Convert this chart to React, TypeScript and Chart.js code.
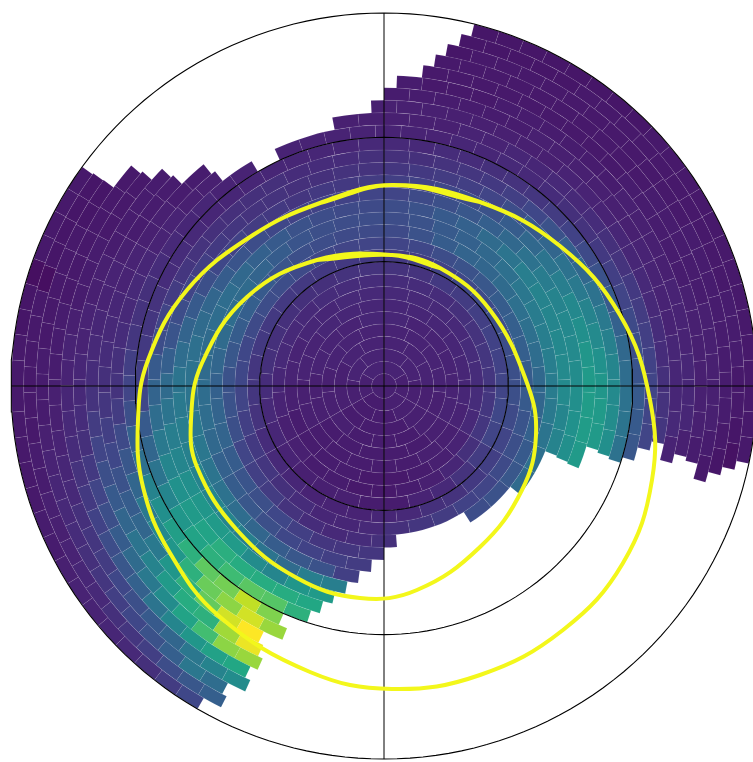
import React, { useEffect, useRef } from "react";
import { Chart, registerables } from "chart.js";

Chart.register(...registerables);

const _ = null;
// Each ring runs clockwise from north; values are percent of the colour range, null is an empty cell.
const ring0 = [5];
const ring1 = [6, 5, 5, 4, 5, 6];
const ring2 = [6, 6, 5, 5, 4, 4, 5, 6, 6];
const ring3 = [6, 6, 6, 5, 5, 4, 4, 4, 5, 5, 6, 6];
const ring4 = [6, 6, 6, 6, 5, 5, 4, 4, 4, 5, 5, 5, 6, 6, 6];
const ring5 = [7, 6, 6, 6, 6, 6, 5, 4, 4, 4, 4, 4, 5, 5, 6, 6, 6, 7];
const ring6 = [7, 7, 7, 7, 7, 7, 6, 5, 5, 4, 4, 4, 4, 4, 5, 5, 6, 6, 7, 7, 7];
const ring7 = [8, 8, 8, 8, 9, 9, 9, 8, 6, 5, 4, 3, 3, 4, 4, 4, 4, 5, 6, 6, 7, 7, 8, 8];
const ring8 = [9, 9, 9, 10, 11, 12, 12, 12, 12, 10, 7, 5, 4, 3, 3, 4, 4, 5, 5, 6, 7, 8, 8, 8, 9, 9, 9];
const ring9 = [11, 11, 13, 14, 15, 16, 16, 17, 18, 17, 14, 11, 8, 6, 4, 4, 5, 5, 5, 6, 7, 8, 9, 10, 10, 10, 10, 10, 11, 11];
const ring10 = [13, 14, 16, 18, 19, 20, 20, 21, 21, 19, 17, 15, 13, 11, 10, 8, 7, 6, 6, 6, 7, 8, 9, 11, 12, 12, 13, 13, 13, 13, 13, 13, 13];
const ring11 = [17, 18, 20, 22, 24, 26, 27, 27, 26, 25, 23, 21, 19, 17, 16, 14, 12, 10, 8, 7, 7, 9, 10, 12, 13, 15, 17, 18, 18, 19, 20, 20, 19, 18, 17, 17];
const ring12 = [19, 22, 26, 29, 30, 32, 34, 34, 33, 31, 30, 28, 25, 24, 22, 20, _, _, _, 10, 9, 8, 9, 11, 14, 15, 17, 21, 22, 22, 24, 26, 27, 25, 23, 21, 20, 19, 19];
const ring13 = [20, 22, 25, 28, 31, 34, 37, 39, 40, 40, 39, 38, 36, 34, 32, _, _, _, _, _, _, 12, 12, 12, 15, 18, 21, 23, 26, 29, 29, 28, 30, 32, 33, 32, 29, 26, 23, 21, 20, 20];
const ring14 = [20, 22, 25, 28, 32, 36, 40, 42, 43, 44, 45, 45, 43, 42, _, _, _, _, _, _, _, _, _, 14, 15, 16, 18, 21, 24, 26, 28, 31, 33, 33, 32, 32, 33, 33, 31, 28, 25, 22, 20, 19, 19];
const ring15 = [17, 19, 21, 24, 27, 31, 35, 39, 42, 44, 45, 46, 47, 48, 47, _, _, _, _, _, _, _, _, _, _, 15, 22, 24, 26, 30, 33, 35, 36, 37, 37, 36, 35, 34, 32, 30, 26, 23, 20, 18, 16, 16, 16, 17];
const ring16 = [15, 16, 18, 20, 22, 26, 31, 36, 40, 44, 47, 50, 52, 53, 53, 52, _, _, _, _, _, _, _, _, _, _, _, 40, 40, 32, 36, 41, 43, 43, 42, 41, 40, 38, 36, 33, 29, 25, 21, 18, 16, 14, 13, 12, 13, 13, 14];
const ring17 = [12, 13, 14, 15, 17, 20, 25, 30, 35, 38, 42, 45, 48, 50, 52, 52, _, _, _, _, _, _, _, _, _, _, _, _, _, 52, 50, 43, 46, 52, 52, 50, 47, 43, 40, 36, 32, 27, 23, 20, 17, 15, 13, 12, 11, 11, 10, 10, 11, 11];
const ring18 = [10, 10, 11, 12, 13, 15, 18, 22, 27, 31, 35, 38, 41, 43, 45, 46, 47, _, _, _, _, _, _, _, _, _, _, _, _, _, _, 58, 60, 60, 60, 61, 56, 52, 48, 43, 38, 33, 29, 25, 20, 17, 14, 12, 11, 10, 10, 10, 10, 9, 9, 9, 10];
const ring19 = [8, 8, 9, 9, 10, 11, 12, 14, 16, 19, 22, 25, 28, 31, 33, 35, 36, 35, _, _, _, _, _, _, _, _, _, _, _, _, _, _, _, 62, 72, 73, 67, 62, 56, 50, 43, 36, 30, 25, 18, 15, 13, 12, 11, 9, 9, 8, 7, 7, 7, 7, 7, 7, 7, 8];
const ring20 = [6, 6, 7, 7, 8, 8, 9, 10, 11, 13, 15, 17, 19, 21, 23, 25, 25, 24, _, _, _, _, _, _, _, _, _, _, _, _, _, _, _, _, _, 80, 90, 78, 74, 62, 54, 47, 42, 34, 28, 21, 17, 15, 12, 11, 10, 9, 8, 7, 7, 6, 6, _, 6, 6, 6, 6, 6];
const ring21 = [5, 5, 5, 6, 6, 7, 7, 8, 8, 9, 10, 11, 13, 14, 15, 16, 17, 17, 17, _, _, _, _, _, _, _, _, _, _, _, _, _, _, _, _, _, _, 84, 93, 82, 76, 62, 50, 44, 38, 30, 24, 19, 14, 11, 10, 9, 8, 8, 7, 6, 6, 5, 5, _, _, _, _, _, 5, 5];
const ring22 = [5, 5, 5, 5, 5, 5, 5, 6, 6, 6, 7, 7, 8, 8, 9, 9, 10, 11, 12, _, _, _, _, _, _, _, _, _, _, _, _, _, _, _, _, _, _, _, _, 100, 93, 75, 62, 50, 38, 30, 26, 22, 18, 15, 12, 10, 9, 8, 7, 6, 6, 5, 5, 4, 4, _, _, _, _, _, _, _, 5];
const ring23 = [4, 4, 4, 4, 4, 4, 5, 5, 5, 5, 5, 5, 6, 6, 6, 6, 7, 7, 7, 8, 6, _, _, _, _, _, _, _, _, _, _, _, _, _, _, _, _, _, _, _, _, 97, 85, 62, 60, 52, 42, 36, 30, 25, 21, 17, 14, 11, 9, 8, 7, 6, 6, 5, 4, 4, 4, _, _, _, _, _, _, _, _, _];
const ring24 = [4, 3, 3, 3, 4, 4, 4, 4, 4, 4, 5, 5, 5, 5, 6, 6, 6, 7, 7, 7, 5, _, _, _, _, _, _, _, _, _, _, _, _, _, _, _, _, _, _, _, _, _, 84, 82, 68, 56, 46, 38, 32, 26, 21, 17, 13, 10, 9, 8, 7, 6, 6, 5, 5, 4, 4, 4, 4, _, _, _, _, _, _, _, _, _, _];
const ring25 = [_, 3, 3, 3, 3, 3, 3, 3, 3, 3, 4, 4, 4, 4, 4, 5, 5, 5, 5, 5, 5, 4, _, _, _, _, _, _, _, _, _, _, _, _, _, _, _, _, _, _, _, _, _, _, 58, 55, 50, 43, 36, 28, 24, 20, 16, 13, 11, 9, 8, 7, 6, 6, 5, 4, 4, 4, 3, 3, 3, _, _, _, _, _, _, _, _, _, _, _];
const ring26 = [_, _, 3, 3, 3, 3, 3, 3, 3, 3, 3, 3, 4, 4, 4, 4, 4, 5, 5, 5, 5, 5, 4, 3, _, _, _, _, _, _, _, _, _, _, _, _, _, _, _, _, _, _, _, _, _, _, 46, 42, 37, 30, 25, 21, 18, 14, 12, 10, 8, 7, 6, 5, 5, 4, 4, 4, 3, 3, 3, 3, 3, 3, _, _, _, _, _, _, _, _, _, _, _];
const ring27 = [_, _, 2, 3, 3, 3, 3, 3, 3, 3, 3, 3, 3, 3, 4, 4, 4, 4, 4, 4, 4, 4, 3, 2, _, _, _, _, _, _, _, _, _, _, _, _, _, _, _, _, _, _, _, _, _, _, _, _, 33, 37, 27, 22, 18, 15, 12, 10, 9, 8, 7, 6, 5, 4, 4, 4, 3, 3, 3, 3, 3, 2, 2, _, _, _, _, _, _, _, _, _, _, _, _, _];
const ring28 = [_, _, _, 2, 2, 2, 2, 2, 3, 3, 3, 3, 3, 3, 3, 3, 3, 3, 4, 4, 4, 3, 3, 2, 1, _, _, _, _, _, _, _, _, _, _, _, _, _, _, _, _, _, _, _, _, _, _, _, _, _, 27, 24, 20, 15, 12, 10, 8, 7, 6, 5, 5, 4, 4, 3, 3, 3, 3, 3, 3, 0, 2, 2, 2, 2, _, _, _, _, _, _, _, _, _, _, _, _, _];
const ring29 = [_, _, _, 2, 2, 2, 2, 2, 2, 2, 2, 3, 3, 3, 3, 3, 3, 3, 3, 3, 3, 3, 3, 3, 3, _, _, _, _, _, _, _, _, _, _, _, _, _, _, _, _, _, _, _, _, _, _, _, _, _, _, _, 18, 14, 10, 8, 7, 6, 6, 5, 4, 4, 3, 3, 3, 3, 3, 3, 3, 2, 2, 0, 3, 3, 3, 3, _, _, _, _, _, _, _, _, _, _, _, _, _, _];

const rings = [ring0, ring1, ring2, ring3, ring4, ring5, ring6, ring7, ring8, ring9, ring10, ring11, ring12, ring13, ring14, ring15, ring16, ring17, ring18, ring19, ring20, ring21, ring22, ring23, ring24, ring25, ring26, ring27, ring28, ring29];
// Angle, in degrees, at which each ring's first cell starts.
const ringStart = [0, 0, 0, 0, 0, 0, 0, 0, 0, 0, 0, 0, 0, 0, 0, 0, 0, 0, 0, 0, 3.8, 0, 2.6, 0, 2.4, 2.38, 0, 2, 0, 2];

// Closed curves. The first and last knots overlap so the join is smooth.
const outerCurveX = [-64, 8, 96, 176, 236, 266, 268, 239, 179, 96, 8, -74, -164, -214, -241, -246, -236, -197, -131, -64, 8, 96];
const outerCurveY = [183, 201, 184, 140, 71, -14, -94, -177, -244, -289, -303, -286, -231, -167, -101, -34, 26, 96, 151, 183, 201, 184];
const innerCurveX = [-67, 8, 56, 106, 143, 152, 138, 96, 33, -24, -87, -147, -187, -193, -182, -137, -67, 8, 56];
const innerCurveY = [126, 131, 118, 76, 3, -49, -104, -161, -204, -212, -192, -144, -81, -34, 23, 89, 126, 131, 118];

const radialTicks = [124.33, 248.67, 373];

const VIRIDIS = ["#440154", "#482475", "#414487", "#355f8d", "#2a788e", "#21918c", "#22a884", "#44bf70", "#7ad151", "#bddf26", "#fde725"];

function hexRgb(h: string) {
  return [1, 3, 5].map((i) => parseInt(h.slice(i, i + 2), 16));
}

function cellColor(v: number | null) {
  if (v === null) return "rgba(0,0,0,0)";
  const t = ((4 + Math.min(100, Math.max(0, v)) * 0.96) / 100) * (VIRIDIS.length - 1);
  const lo = Math.floor(t);
  const hi = Math.min(lo + 1, VIRIDIS.length - 1);
  const a = hexRgb(VIRIDIS[lo]);
  const b = hexRgb(VIRIDIS[hi]);
  const c = a.map((x, i) => Math.round(x + (b[i] - x) * (t - lo)));
  return `rgb(${c[0]},${c[1]},${c[2]})`;
}

function zip(xs: number[], ys: number[]) {
  return xs.map((x, i) => ({ x, y: ys[i] }));
}

function circlePoints(r: number) {
  const pts = [];
  for (let d = 0; d <= 360; d += 2) {
    pts.push({ x: r * Math.sin((d * Math.PI) / 180), y: r * Math.cos((d * Math.PI) / 180) });
  }
  return pts;
}

export default function App() {
  const ref = useRef<HTMLCanvasElement>(null);
  useEffect(() => {
    const ringSets = rings
      .map((row, k) => ({
        type: "doughnut" as const,
        data: row.map(() => 1),
        backgroundColor: row.map(cellColor),
        borderColor: row.map((v) => (v === null ? "rgba(0,0,0,0)" : "rgba(255,255,255,0.13)")),
        borderWidth: 0.5,
        hoverOffset: 0,
        cutout: 0,
        radius: "100%",
        rotation: ringStart[k],
        spacing: 0,
        order: 2,
      }))
      .reverse();
    const lineBase = { type: "scatter" as const, showLine: true, pointRadius: 0, weight: 0, clip: false as const };
    const gridSets = [
      ...radialTicks.map((r) => ({ ...lineBase, data: circlePoints(r), borderColor: "#000", borderWidth: 1.1, tension: 0, order: 1 })),
      { ...lineBase, data: [{ x: -373, y: 0 }, { x: 373, y: 0 }], borderColor: "#000", borderWidth: 1, order: 1 },
      { ...lineBase, data: [{ x: 0, y: -373 }, { x: 0, y: 373 }], borderColor: "#000", borderWidth: 1, order: 1 },
    ];
    const curves = [
      { ...lineBase, data: zip(outerCurveX, outerCurveY), borderColor: "#f3f71b", borderWidth: 4, tension: 0.4, order: 0 },
      { ...lineBase, data: zip(innerCurveX, innerCurveY), borderColor: "#f3f71b", borderWidth: 4, tension: 0.4, order: 0 },
    ];
    const chart = new Chart(ref.current!, {
      type: "scatter",
      data: { datasets: [...ringSets, ...gridSets, ...curves] as any },
      options: {
        animation: false,
        responsive: false,
        maintainAspectRatio: false,
        events: [],
        layout: { padding: { left: 11, right: 11, top: 13, bottom: 13 } },
        plugins: { legend: { display: false }, tooltip: { enabled: false } },
        scales: {
          x: { type: "linear", min: -373, max: 373, display: false },
          y: { type: "linear", min: -373, max: 373, display: false },
        },
      },
    });
    return () => chart.destroy();
  }, []);
  return (
    <div style={{ position: "fixed", left: 0, top: 0, width: 753, height: 762, overflow: "hidden", background: "#fff" }}>
      <canvas ref={ref} width={768} height={772} style={{ display: "block", width: 768, height: 772 }} />
    </div>
  );
}
